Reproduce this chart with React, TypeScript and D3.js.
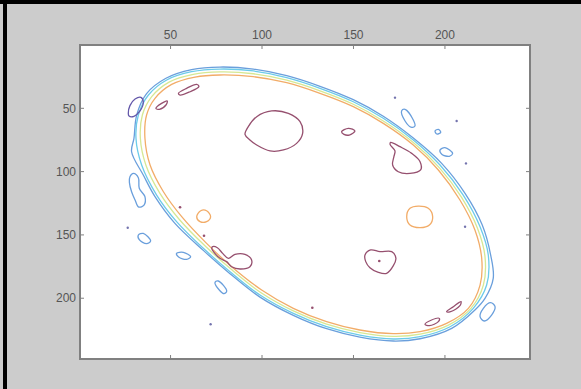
import * as d3 from 'd3'

type Pt = [number, number]

// tick values (image axes, x on top, y reversed)
const xTicks = [50, 100, 150, 200]
const yTicks = [50, 100, 150, 200]

// main phantom rings (data units)
const ringBlue: Pt[] = [
    [77.0, 17.4], [95.3, 19.0], [113.5, 24.2], [131.7, 32.6], [149.9, 43.2], [166.3, 56.3],
    [182.7, 73.5], [198.2, 93.5], [211.0, 117.2], [220.4, 142.2], [225.0, 165.9], [226.4, 184.3],
    [221.9, 200.1], [216.4, 209.3], [203.7, 223.8], [186.4, 232.0], [171.8, 233.8], [153.5, 230.7],
    [135.3, 224.1], [117.1, 213.5], [98.9, 199.1], [82.5, 180.6], [67.9, 162.2], [52.4, 140.9],
    [41.5, 119.8], [35.1, 102.7], [28.7, 84.3], [30.0, 73.7], [31.5, 55.3], [36.9, 38.4],
    [47.5, 26.3], [61.5, 19.5],
]
const ringCyan: Pt[] = [
    [77.0, 19.0], [95.3, 20.5], [113.5, 25.8], [131.7, 34.2], [149.9, 44.8], [166.3, 57.9],
    [182.7, 75.0], [197.3, 94.8], [210.0, 118.5], [219.2, 143.5], [223.7, 165.9], [222.8, 189.6],
    [215.5, 208.0], [202.8, 222.5], [186.4, 230.4], [171.8, 232.2], [153.5, 229.1], [135.3, 222.5],
    [117.1, 212.0], [98.9, 197.5], [82.5, 179.0], [67.9, 160.6], [53.3, 139.5], [42.4, 118.5],
    [34.2, 94.8], [31.1, 73.7], [32.4, 55.3], [37.9, 39.5], [47.9, 27.6], [61.5, 21.1],
]
const ringGreen: Pt[] = [
    [77.0, 21.3], [95.3, 22.7], [113.5, 27.8], [131.7, 36.2], [149.9, 46.8], [166.3, 60.0],
    [182.7, 77.0], [196.9, 96.8], [209.1, 120.4], [217.8, 144.8], [221.9, 167.2], [221.0, 189.6],
    [214.2, 208.0], [201.9, 221.2], [186.4, 228.4], [171.8, 230.1], [153.5, 227.1], [135.3, 220.5],
    [117.1, 210.0], [99.3, 195.5], [83.0, 177.0], [68.8, 158.6], [54.7, 137.6], [44.2, 117.2],
    [36.5, 94.8], [33.5, 73.7], [34.6, 55.3], [39.7, 40.8], [49.2, 29.3], [62.4, 23.2],
]
const ringOrange: Pt[] = [
    [77.0, 23.7], [95.3, 25.0], [113.5, 29.8], [131.7, 38.2], [149.9, 48.7], [166.3, 61.9],
    [182.7, 79.0], [196.4, 98.7], [208.2, 122.4], [216.4, 146.1], [220.1, 168.5], [219.2, 189.6],
    [212.8, 208.0], [200.9, 219.9], [186.4, 226.4], [171.8, 228.0], [153.5, 225.1], [135.3, 218.5],
    [117.1, 208.0], [99.8, 193.5], [83.4, 175.1], [69.7, 156.7], [56.1, 135.6], [46.1, 115.9],
    [38.8, 94.8], [36.0, 73.7], [36.9, 55.3], [41.5, 42.1], [50.6, 31.1], [63.4, 25.3],
]

// inner features
const bigTumor: Pt[] = [
    [92.5, 64.5], [97.1, 56.6], [105.3, 52.1], [114.4, 54.0], [120.8, 60.6], [122.2, 69.8],
    [118.9, 77.7], [111.7, 82.9], [104.4, 83.7], [97.1, 79.0], [93.4, 75.0], [90.7, 70.6],
]
const smallOval: Pt[] = [[143.5, 68.5], [147.2, 65.8], [150.8, 67.9], [147.7, 71.1], [144.8, 70.6]]
const rightTail: Pt[] = [
    [170.3, 76.9], [175.4, 80.3], [181.8, 85.6], [186.4, 92.2], [186.7, 98.7], [180.9, 101.4],
    [174.5, 100.1], [171.4, 94.8], [172.1, 88.2], [172.7, 83.7], [170.0, 78.5],
]
const orangeRight: Pt[] = [
    [179.1, 135.6], [180.9, 129.0], [185.4, 127.2], [190.9, 129.0], [193.3, 135.6], [191.5, 142.2],
    [186.4, 144.3], [180.9, 142.2],
]
const lowerRightBlob: Pt[] = [
    [156.3, 165.9], [159.4, 161.9], [164.5, 163.2], [170.9, 163.2], [173.2, 168.5], [171.8, 174.3],
    [168.1, 180.4], [163.6, 179.6], [159.0, 175.9], [156.7, 171.1],
]
const orangeLeft: Pt[] = [[64.3, 135.6], [66.5, 130.9], [69.7, 130.9], [71.9, 135.6], [69.7, 139.5], [66.1, 139.5]]
const loopBlob: Pt[] = [
    [73.0, 159.3], [75.6, 160.1], [78.5, 164.6], [81.6, 168.5], [85.2, 165.4], [90.7, 165.4],
    [94.3, 169.8], [93.4, 175.1], [88.0, 176.9], [83.4, 175.1], [80.7, 171.1], [77.0, 168.5],
    [73.8, 163.8], [72.5, 160.6],
]
const dashTopA: Pt[] = [[54.3, 38.2], [58.8, 34.2], [64.3, 31.1], [65.5, 32.9], [60.6, 36.9], [55.2, 39.5]]
const dashTopB: Pt[] = [[42.0, 50.0], [45.1, 46.1], [48.2, 44.2], [47.5, 47.4], [43.9, 50.8]]
const dashBotA: Pt[] = [[189.1, 220.6], [192.7, 217.2], [196.9, 215.9], [196.4, 218.5], [191.5, 221.7]]
const dashBotB: Pt[] = [[200.9, 210.6], [204.6, 206.7], [208.8, 202.7], [208.2, 205.9], [203.1, 210.6]]

// outside noise
const purpleBlob: Pt[] = [
    [26.9, 54.0], [27.8, 47.9], [30.6, 42.7], [33.8, 41.3], [35.1, 45.3], [33.3, 52.1], [30.0, 56.3], [27.3, 56.1],
]
const blueLeft: Pt[] = [
    [27.8, 104.0], [29.7, 101.4], [32.4, 104.8], [32.9, 113.2], [36.0, 119.8], [35.5, 126.4],
    [32.6, 128.0], [30.6, 122.4], [28.7, 115.9], [27.5, 108.5],
]
const blueA: Pt[] = [[32.4, 150.1], [35.1, 148.8], [39.1, 154.8], [36.9, 156.9], [32.9, 153.8]]
const blueB: Pt[] = [[53.3, 164.6], [57.0, 163.8], [61.0, 167.2], [58.8, 169.3], [54.4, 167.5]]
const blueC: Pt[] = [[74.3, 187.5], [76.1, 186.4], [80.7, 194.3], [79.2, 196.4], [74.8, 190.1]]
const blueD: Pt[] = [[176.3, 52.1], [178.2, 50.8], [182.7, 59.2], [183.6, 64.0], [181.4, 64.8], [178.2, 60.0]]
const blueE: Pt[] = [[194.6, 67.9], [196.4, 66.6], [197.7, 69.0], [195.5, 70.3]]
const blueF: Pt[] = [[197.3, 82.9], [200.0, 81.1], [204.2, 85.6], [202.4, 87.9], [198.4, 86.4]]
const blueG: Pt[] = [[219.2, 214.6], [221.0, 208.0], [225.0, 203.5], [227.4, 206.7], [225.5, 213.3], [221.5, 218.0]]

const maroonDots: Pt[] = [[55.2, 128.2], [68.3, 150.6], [127.5, 207.5], [164.1, 170.6]]
const blueDots: Pt[] = [[172.7, 41.6], [206.4, 60.0], [211.5, 93.5], [211.0, 143.5], [26.6, 144.3], [71.9, 220.6]]

const colors = {
    purple: '#6458aa',
    blue: '#6a9fdc',
    cyan: '#6ccbea',
    green: '#d6e894',
    orange: '#f2ac68',
    maroon: '#96506f',
}

const contours: { color: string; pts: Pt[] }[] = [
    { color: colors.blue, pts: ringBlue },
    { color: colors.cyan, pts: ringCyan },
    { color: colors.green, pts: ringGreen },
    { color: colors.orange, pts: ringOrange },
    { color: colors.maroon, pts: bigTumor },
    { color: colors.maroon, pts: smallOval },
    { color: colors.maroon, pts: rightTail },
    { color: colors.orange, pts: orangeRight },
    { color: colors.maroon, pts: lowerRightBlob },
    { color: colors.orange, pts: orangeLeft },
    { color: colors.maroon, pts: loopBlob },
    { color: colors.maroon, pts: dashTopA },
    { color: colors.maroon, pts: dashTopB },
    { color: colors.maroon, pts: dashBotA },
    { color: colors.maroon, pts: dashBotB },
    { color: colors.purple, pts: purpleBlob },
    { color: colors.blue, pts: blueLeft },
    { color: colors.blue, pts: blueA },
    { color: colors.blue, pts: blueB },
    { color: colors.blue, pts: blueC },
    { color: colors.blue, pts: blueD },
    { color: colors.blue, pts: blueE },
    { color: colors.blue, pts: blueF },
    { color: colors.blue, pts: blueG },
]

const W = 581
const H = 389
const left = 80
const right = 530
const top = 45
const bottom = 359

export default function App() {
    const x = d3.scaleLinear().domain([0.5, 246.5]).range([left, right])
    const y = d3.scaleLinear().domain([0, 248]).range([top, bottom])

    const line = d3
        .line<Pt>()
        .x((d) => x(d[0]))
        .y((d) => y(d[1]))
        .curve(d3.curveCatmullRomClosed.alpha(0.5))

    const font = 'Liberation Sans, Arial, sans-serif'
    const axisColor = '#808080'

    return (
        <div style={{ position: 'absolute', left: 0, top: 0 }}>
            <svg width={W} height={H} style={{ display: 'block' }}>
                <rect x={0} y={0} width={W} height={H} fill="#cccccc" />
                <rect x={0} y={0} width={W} height={4} fill="#000" />
                <rect x={3} y={0} width={4} height={H} fill="#000" />

                <rect x={left} y={top} width={right - left} height={bottom - top} fill="#fff" />

                <g fill="none" strokeWidth={1.3} strokeLinejoin="round">
                    {contours.map((c, i) => (
                        <path key={i} d={line(c.pts) ?? undefined} stroke={c.color} />
                    ))}
                </g>
                {maroonDots.map((d, i) => (
                    <circle key={'m' + i} cx={x(d[0])} cy={y(d[1])} r={1.3} fill={colors.maroon} />
                ))}
                {blueDots.map((d, i) => (
                    <circle key={'b' + i} cx={x(d[0])} cy={y(d[1])} r={1.2} fill="#7474ae" />
                ))}

                <rect
                    x={left}
                    y={top}
                    width={right - left}
                    height={bottom - top}
                    fill="none"
                    stroke={axisColor}
                    strokeWidth={2}
                />

                {xTicks.map((t) => (
                    <g key={'x' + t}>
                        <line x1={x(t)} x2={x(t)} y1={top} y2={top + 4} stroke={axisColor} />
                        <line x1={x(t)} x2={x(t)} y1={bottom} y2={bottom - 4} stroke={axisColor} />
                        <text
                            x={x(t)}
                            y={top - 6}
                            textAnchor="middle"
                            fontFamily={font}
                            fontSize={12}
                            fill="#555"
                        >
                            {t}
                        </text>
                    </g>
                ))}
                {yTicks.map((t) => (
                    <g key={'y' + t}>
                        <line x1={left} x2={left + 4} y1={y(t)} y2={y(t)} stroke={axisColor} />
                        <line x1={right} x2={right - 4} y1={y(t)} y2={y(t)} stroke={axisColor} />
                        <text
                            x={left - 4}
                            y={y(t)}
                            dy="0.35em"
                            textAnchor="end"
                            fontFamily={font}
                            fontSize={12}
                            fill="#555"
                        >
                            {t}
                        </text>
                    </g>
                ))}
            </svg>
        </div>
    )
}
